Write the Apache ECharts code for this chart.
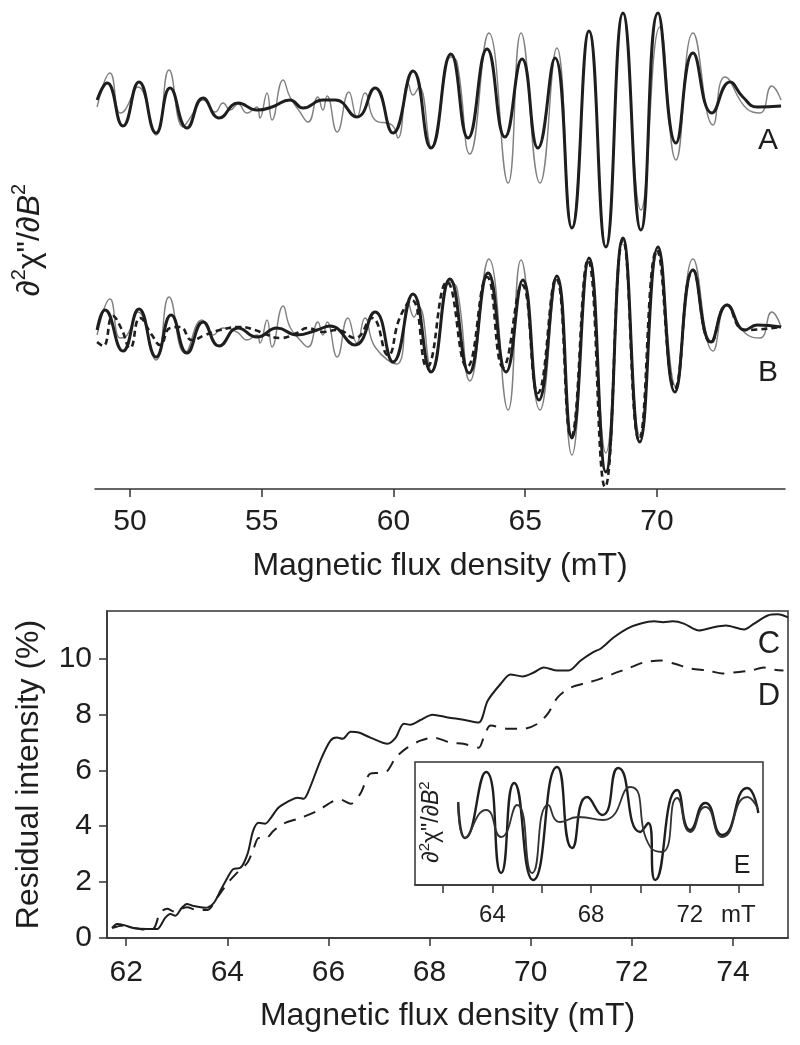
<!DOCTYPE html>
<html><head><meta charset="utf-8">
<script src="https://cdn.jsdelivr.net/npm/echarts@6/dist/echarts.min.js"></script>
<style>html,body{margin:0;padding:0;background:#fff}#c{width:800px;height:1045px}</style>
</head><body><div id="c"></div>
<script>
// ---------- DATA ----------
// Top panel: field (mT) and second-derivative intensity (arbitrary units)
const aFitB = [48.75,49.13,49.73,50.34,50.99,51.52,52.16,52.77,53.38,54.10,54.82,55.39,56.07,56.57,57.32,57.80,58.61,59.30,59.98,60.74,61.42,62.18,62.83,63.55,64.23,64.88,65.48,66.13,66.77,67.42,68.06,68.71,69.39,70.04,70.72,71.37,72.09,72.77,73.26,73.80,74.71];
const aFitI = [0,1.7,-2.6,1.8,-3.3,1.2,-2.8,0.2,-1.8,-0.3,-1.0,-0.7,0,-0.8,0,0,-1.7,1.2,-3.3,2.9,-4.8,4.6,-3.8,5.1,-3.7,4.1,-4.8,4.2,-12.8,6.9,-14.7,8.7,-13.0,8.7,-4.3,4.7,-1.3,1.8,0.3,-0.7,-0.6];
const aExpB = [48.75,49.24,49.62,49.81,50.30,50.99,51.48,52.01,52.28,52.77,53.23,53.53,53.80,54.10,54.44,54.82,54.93,55.20,55.39,55.81,56.07,56.45,56.76,57.13,57.32,57.48,57.86,58.31,58.61,58.92,59.30,59.94,60.17,60.55,60.74,60.97,61.46,62.18,62.41,62.90,63.62,64.35,64.84,65.56,66.20,66.77,67.42,68.06,68.71,69.39,70.11,70.72,71.37,72.13,72.58,73.42,73.91,74.36,74.71];
const aExpI = [-0.7,2.7,-1.3,-1.0,1.3,-3.5,3.0,-2.7,-1.8,0,-1.2,-0.3,-1.0,-0.4,-1.3,-0.7,-1.8,0.7,-2.0,2.0,0.3,-1.2,-2.2,0.3,-1.0,0.4,-3.2,0.8,-1.7,0.7,-2.0,-2.5,-3.8,1.7,0.5,1.3,-4.8,4.3,3.8,-5.4,6.7,-8.3,6.7,-8.3,5.2,-12.8,6.9,-14.7,8.7,-11.0,7.3,-6.0,6.7,-2.5,2.3,-0.9,-1.3,1.4,0];
const bFitB = [48.75,49.05,49.73,50.34,50.99,51.56,52.16,52.77,53.38,54.10,54.82,55.58,56.34,57.10,57.59,58.54,59.30,59.98,60.74,61.42,62.14,62.87,63.59,64.27,64.91,65.52,66.20,66.77,67.42,68.06,68.71,69.35,70.04,70.68,71.37,72.05,72.66,73.34,73.80,74.71];
const bFitI = [-0.5,1.5,-2.6,1.6,-3.2,1.0,-2.8,0.3,-2.1,-0.3,-1.2,-0.3,-1.0,-0.5,-0.1,-2.0,1.3,-3.7,3.1,-4.7,4.6,-4.8,5.2,-4.7,4.5,-7.5,4.9,-11.3,6.7,-14.7,8.7,-11.7,7.8,-6.7,5.5,-1.7,2.0,-0.5,0,-0.2];
const bExpB = [48.75,49.24,49.62,49.89,50.30,50.99,51.48,52.09,52.73,53.15,53.53,54.06,54.44,54.82,54.93,55.20,55.39,55.81,56.07,56.45,56.76,57.13,57.32,57.48,57.86,58.27,58.61,58.92,59.30,60.13,60.55,60.78,60.97,61.46,62.14,62.41,62.90,63.62,64.35,64.84,65.56,66.20,66.77,67.42,68.06,68.71,69.35,70.04,70.72,71.37,72.13,72.66,73.34,73.91,74.36,74.71];
const bExpI = [-1.0,2.6,-1.3,-1.0,1.3,-3.5,2.8,-2.8,0.5,-1.0,-0.3,-0.7,-1.5,-1.0,-1.8,0.5,-2.2,1.9,-0.2,-1.5,-2.2,0.3,-1.0,0.3,-3.2,0.7,-1.8,0.7,-2.2,-3.9,2.3,0.8,1.8,-4.7,4.3,3.7,-5.6,6.6,-8.5,6.5,-8.5,4.5,-13.0,6.3,-12.8,8.5,-11.0,7.2,-6.2,6.6,-2.6,2.0,-0.8,-1.3,1.3,-0.2];
const bSimB = [48.75,48.98,49.35,49.66,50.00,50.38,50.83,51.14,51.52,51.90,52.35,52.85,53.42,54.17,54.74,55.12,55.69,56.34,56.72,57.32,57.86,58.54,59.18,59.79,60.25,60.70,61.27,62.03,62.79,63.55,64.16,64.88,65.48,66.17,66.74,67.38,68.03,68.71,69.32,70.00,70.68,71.37,72.05,72.66,73.34,74.71];
const bSimI = [-1.7,-2.1,0.9,-0.3,-2.3,0.7,-1.0,-2.0,-0.3,-0.2,-1.5,-1.0,-0.5,-0.2,-0.5,-0.9,-1.3,-0.8,-0.3,-0.7,-0.5,-1.3,0.7,-3.0,0.8,2.5,-4.2,4.3,-4.2,4.8,-4.2,4.0,-6.8,4.7,-11.2,6.5,-16.2,8.5,-11.5,7.5,-6.3,5.5,-1.8,2.0,-0.5,-0.2];

// Bottom panel: residual intensity (%)
const cB = [61.72,61.82,61.94,62.14,62.41,62.61,62.77,62.87,62.97,63.10,63.20,63.32,63.56,63.73,63.86,64.00,64.12,64.26,64.40,64.51,64.62,64.75,64.85,65.01,65.19,65.39,65.51,65.61,65.84,66.04,66.17,66.28,66.44,66.60,66.83,67.17,67.33,67.49,67.62,67.82,68.06,68.36,68.67,68.97,69.15,69.41,69.60,69.84,70.06,70.26,70.53,70.75,70.99,71.23,71.39,71.64,71.92,72.18,72.44,72.62,72.81,73.03,73.33,73.60,73.86,74.22,74.42,74.69,74.89,75.09];
const cI = [0.36,0.50,0.47,0.36,0.32,0.32,0.72,0.86,0.80,1.08,1.22,1.15,1.08,1.25,1.68,2.15,2.47,2.51,3.01,3.83,4.12,4.09,4.27,4.66,4.87,5.02,4.98,5.27,6.34,7.06,7.17,7.13,7.38,7.35,7.17,6.95,7.17,7.67,7.63,7.80,7.99,7.89,7.81,7.71,8.49,9.10,9.43,9.36,9.50,9.68,9.57,9.57,9.93,10.22,10.36,10.75,11.08,11.25,11.33,11.30,11.33,11.25,11.00,11.11,11.18,11.04,11.25,11.54,11.58,11.47];
const dB = [61.72,61.94,62.14,62.41,62.55,62.67,62.81,62.95,63.20,63.40,63.60,63.80,64.00,64.20,64.40,64.52,64.62,64.75,64.91,65.11,65.45,65.78,66.10,66.24,66.44,66.63,66.83,67.03,67.17,67.33,67.56,67.82,68.08,68.42,68.67,68.97,69.07,69.21,69.54,69.86,70.14,70.34,70.53,70.79,71.13,71.39,71.64,71.92,72.24,72.57,72.83,73.17,73.50,73.82,74.02,74.36,74.61,74.81,75.00];
const dI = [0.36,0.45,0.36,0.30,0.35,0.90,1.05,0.95,1.10,1.00,1.00,1.45,1.95,2.35,2.70,3.20,3.58,3.55,3.83,4.09,4.30,4.55,4.90,4.95,4.80,5.16,5.88,5.91,5.99,6.45,6.81,7.06,7.17,6.99,6.95,6.81,7.17,7.60,7.49,7.49,7.67,8.03,8.60,8.96,9.14,9.28,9.46,9.64,9.86,9.93,9.82,9.64,9.57,9.46,9.50,9.57,9.68,9.60,9.57];

// Inset E: two second-derivative spectra (arbitrary units)
const e1B = [62.61,62.89,63.74,64.35,64.88,65.65,66.62,67.23,67.84,68.45,69.10,69.99,70.32,70.60,71.49,72.02,72.63,73.32,74.33,74.78];
const e1I = [2.8,-0.8,5.8,-4.3,4.7,-5.0,6.3,-1.8,3.3,1.5,6.2,-0.2,0.7,-5.0,4.0,0,2.7,-0.5,4.2,1.7];
const e2B = [62.61,62.89,63.74,64.35,65.00,65.61,66.26,66.75,67.48,68.49,69.59,70.40,70.88,71.49,72.02,72.63,73.32,74.33,74.78];
const e2I = [2.8,-0.8,2.0,-0.7,2.5,-4.3,2.5,0.8,1.3,1.0,4.3,-1.7,-2.2,3.2,-0.2,2.3,-0.7,3.3,2.0];

// Tick values
const topTicks = [50,55,60,65,70];
const bottomTicks = [62,64,66,68,70,72,74];
const residualTicks = [0,2,4,6,8,10];
const insetTicks = [62,64,66,68,70,72,74];
const insetLabels = [64,68,72];

// ---------- LAYOUT / STYLE ----------
const FONT = '"Liberation Sans", Arial, sans-serif';
const INK = '#1e1e1e';
const A_OFF = 38.9, B_OFF = 16.4;
const pair = (xs, ys, off) => xs.map((x, i) => [x, +(ys[i] + (off || 0)).toFixed(2)]);

const chart = echarts.init(document.getElementById('c'), null, {renderer: 'canvas'});
const axisLine = {onZero: false, lineStyle: {color: '#333', width: 1.5}};
const tickStyle = {color: '#333', width: 1.5};

function line(name, xi, data, color, width, type, smooth) {
  return {name, type: 'line', xAxisIndex: xi, yAxisIndex: xi, data, showSymbol: false, symbol: 'none',
    smooth: smooth, lineStyle: {color, width, type: type || 'solid'}, z: 3, silent: true};
}

const option = {
  animation: false,
  backgroundColor: '#fff',
  grid: [
    {left: 95, right: 15, top: 5, bottom: 556},
    {left: 107, right: 12, top: 611, bottom: 107, show: true, borderColor: '#333', borderWidth: 1.5},
    {left: 415, right: 37, top: 762, height: 123, show: true, borderColor: '#333', borderWidth: 1.5, backgroundColor: '#fff'}
  ],
  xAxis: [
    {gridIndex: 0, type: 'value', min: 48.67, max: 74.86, axisLine,
      axisTick: {customValues: topTicks, length: 8, lineStyle: tickStyle},
      axisLabel: {customValues: topTicks, fontSize: 30, color: INK, margin: 18, fontFamily: FONT},
      splitLine: {show: false},
      name: 'Magnetic flux density (mT)', nameLocation: 'middle', nameGap: 61,
      nameTextStyle: {fontSize: 32, color: INK, fontFamily: FONT}},
    {gridIndex: 1, type: 'value', min: 61.62, max: 75.09, axisLine,
      axisTick: {customValues: bottomTicks, length: 8, lineStyle: tickStyle},
      axisLabel: {customValues: bottomTicks, fontSize: 30, color: INK, margin: 20, fontFamily: FONT},
      splitLine: {show: false},
      name: 'Magnetic flux density (mT)', nameLocation: 'middle', nameGap: 62,
      nameTextStyle: {fontSize: 32, color: INK, fontFamily: FONT}},
    {gridIndex: 2, type: 'value', min: 60.86, max: 74.97, axisLine,
      axisTick: {customValues: insetTicks, length: 8, lineStyle: tickStyle},
      axisLabel: {customValues: insetLabels, fontSize: 24, color: INK, margin: 18, fontFamily: FONT},
      splitLine: {show: false}}
  ],
  yAxis: [
    {gridIndex: 0, type: 'value', min: 0, max: 48.4, show: false},
    {gridIndex: 1, type: 'value', min: 0, max: 11.7, axisLine,
      axisTick: {customValues: residualTicks, length: 8, lineStyle: tickStyle},
      axisLabel: {customValues: residualTicks, fontSize: 30, color: INK, margin: 15, fontFamily: FONT},
      splitLine: {show: false},
      name: 'Residual intensity (%)', nameLocation: 'middle', nameGap: 62,
      nameTextStyle: {fontSize: 32, color: INK, fontFamily: FONT}},
    {gridIndex: 2, type: 'value', min: -5.5, max: 6.8, show: false}
  ],
  series: [
    line('A experimental', 0, pair(aExpB, aExpI, A_OFF), '#808080', 1.4, 'solid', 0.5),
    line('A fit', 0, pair(aFitB, aFitI, A_OFF), INK, 3, 'solid', 0.5),
    line('B experimental', 0, pair(bExpB, bExpI, B_OFF), '#808080', 1.4, 'solid', 0.5),
    line('B simulation', 0, pair(bSimB, bSimI, B_OFF), INK, 2.6, [6, 4], 0.5),
    line('B fit', 0, pair(bFitB, bFitI, B_OFF), INK, 3, 'solid', 0.5),
    line('C', 1, pair(cB, cI), INK, 2, 'solid', 0.3),
    line('D', 1, pair(dB, dI), INK, 2, [12, 9], 0.3),
    line('E 1', 2, pair(e1B, e1I), INK, 2.4, 'solid', 0.6),
    line('E 2', 2, pair(e2B, e2I), '#333', 1.8, 'solid', 0.6)
  ],
  graphic: [
    {type: 'text', x: 30, y: 240, rotation: Math.PI / 2, z: 10,
      style: {text: '{a|∂}{s|2}{a|χ"/∂}{i|B}{s|2}', align: 'center', verticalAlign: 'middle', fill: INK,
        rich: {a: {fontSize: 32, fontFamily: FONT, lineHeight: 42, fill: INK},
               i: {fontSize: 32, fontFamily: FONT, fontStyle: 'italic', lineHeight: 42, fill: INK},
               s: {fontSize: 20, fontFamily: FONT, verticalAlign: 'top', lineHeight: 20, fill: INK}}}},
    {type: 'text', x: 432, y: 822, rotation: Math.PI / 2, z: 10,
      style: {text: '{a|∂}{s|2}{a|χ"/∂}{i|B}{s|2}', align: 'center', verticalAlign: 'middle', fill: INK,
        rich: {a: {fontSize: 23, fontFamily: FONT, lineHeight: 30, fill: INK},
               i: {fontSize: 23, fontFamily: FONT, fontStyle: 'italic', lineHeight: 30, fill: INK},
               s: {fontSize: 15, fontFamily: FONT, verticalAlign: 'top', lineHeight: 15, fill: INK}}}},
    {type: 'text', x: 768, y: 141, z: 10, style: {text: 'A', font: '30px ' + FONT, fill: INK, align: 'center', verticalAlign: 'middle'}},
    {type: 'text', x: 768, y: 373, z: 10, style: {text: 'B', font: '30px ' + FONT, fill: INK, align: 'center', verticalAlign: 'middle'}},
    {type: 'text', x: 769, y: 644, z: 10, style: {text: 'C', font: '31px ' + FONT, fill: INK, align: 'center', verticalAlign: 'middle'}},
    {type: 'text', x: 769, y: 696, z: 10, style: {text: 'D', font: '31px ' + FONT, fill: INK, align: 'center', verticalAlign: 'middle'}},
    {type: 'text', x: 742, y: 866, z: 10, style: {text: 'E', font: '25px ' + FONT, fill: INK, align: 'center', verticalAlign: 'middle'}},
    {type: 'text', x: 721, y: 915, z: 10, style: {text: 'mT', font: '24px ' + FONT, fill: INK, align: 'left', verticalAlign: 'middle'}}
  ]
};
chart.setOption(option);
</script>
</body></html>
